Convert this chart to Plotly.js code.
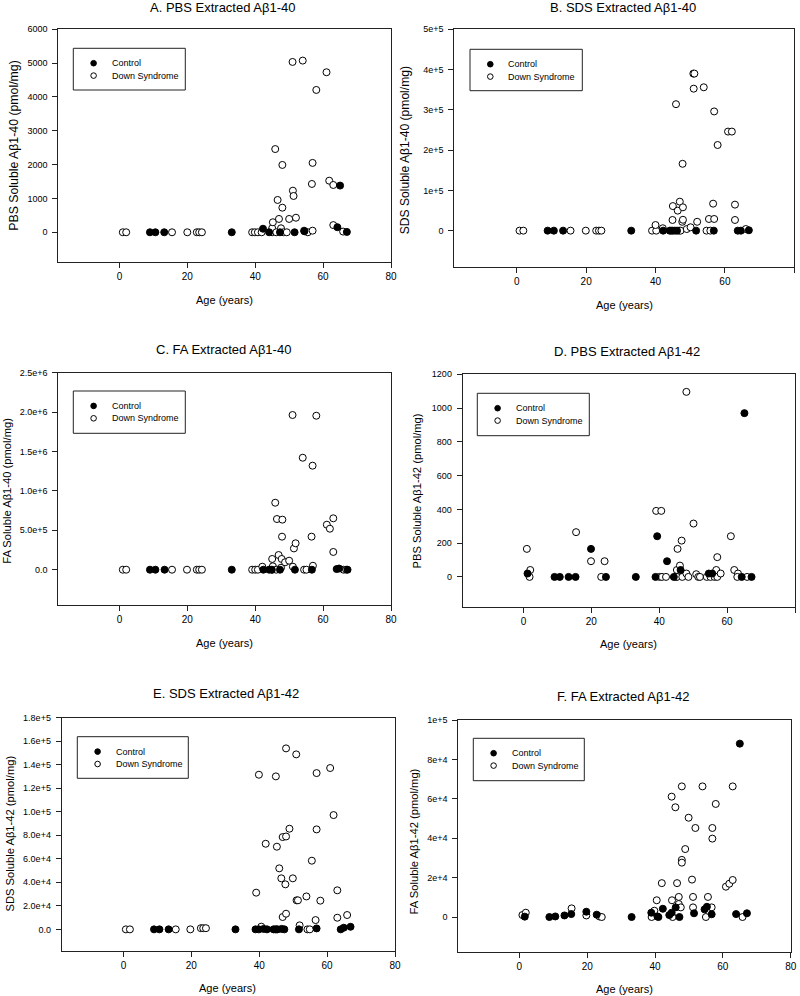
<!DOCTYPE html>
<html><head><meta charset="utf-8">
<script src="https://cdn.plot.ly/plotly-3.0.1.min.js"></script>
<style>html,body{margin:0;padding:0;background:#fff}#chart{width:800px;height:996px}</style>
</head><body><div id="chart"></div>
<script>
// ---------- DATA ----------
const xTickVals = [0, 20, 40, 60, 80];
const xTickText = ['0', '20', '40', '60', '80'];

// A. PBS Abeta1-40
const ctrlAgeA = [9.0, 10.6, 13.2, 33.1, 42.3, 44.1, 47.3, 51.6, 54.5, 64.2, 65.0, 67.0];
const ctrlValA = [0, 0, 0, 0, 105, 0, 0, 0, 30, 150, 1380, 10];
const dsAgeA = [1.0, 2.0, 15.5, 20.0, 22.8, 23.5, 24.3, 39.1, 39.9, 40.8, 41.9, 45.0, 45.0, 45.2, 45.9, 46.2, 46.6, 47.0, 47.6, 48.0, 48.0, 48.3, 49.3, 50.0, 51.0, 51.1, 51.3, 52.0, 54.0, 54.4, 55.5, 56.7, 56.9, 56.9, 58.0, 61.0, 61.8, 63.0, 63.0, 65.9];
const dsValA = [0, 0, 0, 0, 0, 0, 0, 0, 0, 0, 0, 0, 118, 296, 2460, 0, 955, 394, 118, 1990, 727, 0, 0, 394, 5035, 1230, 1073, 430, 5075, 47, 0, 1428, 2050, 47, 4207, 4730, 1525, 1398, 212, 20];
const yTickValsA = [0, 1000, 2000, 3000, 4000, 5000, 6000];
const yTickTextA = ['0', '1000', '2000', '3000', '4000', '5000', '6000'];

// B. SDS Abeta1-40
const ctrlAgeB = [8.9, 10.7, 13.35, 33.0, 42.2, 44.1, 45.0, 46.2, 51.7, 56.8, 63.7, 64.6, 66.9];
const ctrlValB = [0, 0, 0, 0, 0, 0, 0, 0, 0, 0, 0, 0, 1000];
const dsAgeB = [0.8, 1.9, 15.5, 19.9, 22.9, 23.7, 24.4, 39.0, 40.2, 40.0, 42.1, 44.5, 44.9, 45.0, 45.6, 45.9, 46.4, 46.8, 47.0, 47.2, 47.7, 47.8, 47.9, 47.9, 49.0, 50.1, 50.9, 51.2, 51.0, 52.0, 53.9, 54.7, 55.4, 55.8, 56.6, 56.9, 56.9, 57.9, 60.9, 62.0, 62.9, 62.9, 66.0];
const dsValB = [0, 0, 0, 0, 0, 0, 0, 0, 0, 14000, 6000, 0, 26500, 61000, 0, 314000, 49700, 0, 72000, 0, 22000, 166000, 58000, 27000, 4000, 8400, 390000, 390000, 352600, 22000, 356000, 0, 29000, 0, 67000, 29000, 296000, 212700, 246000, 246000, 64600, 26500, 4000];
const yTickValsB = [0, 1e5, 2e5, 3e5, 4e5, 5e5];
const yTickTextB = ['0', '1e+5', '2e+5', '3e+5', '4e+5', '5e+5'];

// C. FA Abeta1-40
const ctrlAgeC = [9.0, 10.6, 13.3, 33.1, 42.4, 44.1, 44.9, 47.3, 51.7, 56.7, 64.0, 64.7, 67.2];
const ctrlValC = [0, 0, 0, 0, 0, 0, 0, 0, 0, 0, 8000, 15000, 0];
const dsAgeC = [1.0, 2.0, 15.5, 19.9, 22.8, 23.5, 24.3, 39.1, 40.0, 40.8, 42.1, 45.0, 45.0, 45.2, 45.9, 46.2, 46.4, 46.9, 47.6, 47.8, 48.0, 47.9, 48.8, 50.0, 51.0, 51.1, 51.4, 51.9, 54.0, 54.4, 55.1, 56.6, 56.9, 57.0, 58.0, 61.1, 62.0, 63.0, 63.0, 66.0, 66.8];
const dsValC = [0, 0, 0, 0, 0, 0, 0, 0, 0, 0, 38000, 0, 136000, 43000, 850000, 0, 643000, 186000, 25000, 136000, 635000, 419000, 94000, 114000, 1963000, 38000, 270000, 335000, 1421000, 0, 0, 419000, 1320000, 50000, 1954000, 571000, 520000, 652000, 225000, 0, 0];
const yTickValsC = [0, 5e5, 1e6, 1.5e6, 2e6, 2.5e6];
const yTickTextC = ['0.0', '5.0e+5', '1.0e+6', '1.5e+6', '2.0e+6', '2.5e+6'];

// D. PBS Abeta1-42
const ctrlAgeD = [1.2, 9.15, 10.7, 13.3, 15.35, 19.9, 24.3, 33.1, 38.9, 39.4, 42.3, 44.3, 46.3, 54.6, 55.6, 64.3, 65.1, 67.2];
const ctrlValD = [20, 0, 0, 0, 0, 166, 0, 0, 0, 241, 93, 0, 41, 20, 20, 0, 970, 0];
const dsAgeD = [1.0, 2.0, 1.8, 15.5, 19.9, 22.9, 23.9, 39.1, 40.6, 40.1, 40.8, 42.0, 45.0, 45.2, 45.2, 45.4, 46.1, 46.6, 46.8, 48.0, 48.0, 48.6, 50.1, 50.9, 51.5, 52.0, 54.0, 55.1, 56.3, 56.8, 57.1, 57.1, 58.1, 61.1, 62.1, 63.2, 63.0, 65.9];
const dsValD = [166, 41, 0, 265, 93, 0, 93, 391, 391, 0, 0, 0, 0, 0, 41, 166, 67, 215, 0, 20, 1096, 0, 316, 16, 0, 0, 0, 0, 0, 41, 0, 117, 20, 241, 41, 20, 0, 0];
const yTickValsD = [0, 200, 400, 600, 800, 1000, 1200];
const yTickTextD = ['0', '200', '400', '600', '800', '1000', '1200'];

// E. SDS Abeta1-42
const ctrlAgeE = [9.0, 10.6, 13.3, 33.0, 38.9, 39.9, 41.3, 42.3, 44.2, 45.4, 46.6, 47.4, 51.7, 56.9, 64.0, 64.9, 66.9];
const ctrlValE = [0, 0, 0, 0, 0, 0, 400, 0, 0, 0, 400, 0, 0, 800, 0, 1400, 2200];
const dsAgeE = [0.7, 1.9, 15.4, 19.7, 22.8, 23.5, 24.3, 39.1, 39.9, 40.6, 41.9, 44.7, 44.9, 45.0, 45.2, 45.9, 46.5, 46.9, 46.9, 47.7, 47.9, 47.9, 47.9, 48.9, 49.9, 50.9, 51.0, 51.4, 51.9, 53.9, 54.2, 54.9, 55.5, 56.6, 56.9, 56.9, 58.0, 60.9, 61.9, 63.0, 63.0, 65.9];
const dsValE = [0, 0, 0, 0, 1000, 1000, 1000, 31200, 131500, 2300, 72800, 0, 130100, 0, 70300, 51900, 43400, 78500, 10500, 38300, 153900, 79000, 13300, 85600, 43400, 148800, 24700, 24700, 3400, 28000, 0, 0, 58400, 7900, 132900, 85000, 24400, 137200, 97200, 33200, 9900, 12200];
const yTickValsE = [0, 2e4, 4e4, 6e4, 8e4, 1e5, 1.2e5, 1.4e5, 1.6e5, 1.8e5];
const yTickTextE = ['0.0', '2.0e+4', '4.0e+4', '6.0e+4', '8.0e+4', '1.0e+5', '1.2e+5', '1.4e+5', '1.6e+5', '1.8e+5'];

// F. FA Abeta1-42
const ctrlAgeF = [1.6, 8.85, 10.6, 13.3, 15.3, 19.75, 22.8, 33.1, 38.9, 40.7, 41.0, 42.3, 44.2, 44.9, 46.1, 47.2, 51.5, 54.6, 55.3, 56.7, 63.9, 65.0, 67.1];
const ctrlValF = [200, 0, 300, 800, 1500, 2700, 1200, 0, 2200, 300, 0, 4200, 1000, 2200, 4900, 0, 1900, 3900, 5200, 1400, 1500, 88000, 1900];
const dsAgeF = [0.9, 1.9, 15.4, 19.75, 23.6, 24.3, 39.0, 39.8, 40.5, 42.0, 44.9, 45.0, 45.2, 46.0, 46.5, 47.0, 47.0, 47.6, 47.9, 47.9, 47.9, 48.9, 49.9, 50.9, 51.2, 51.2, 51.9, 54.0, 55.0, 55.6, 56.7, 56.9, 56.9, 57.9, 60.9, 61.9, 62.9, 62.9, 65.8];
const dsValF = [1000, 2200, 4400, 800, 300, 0, 0, 3200, 8500, 17200, 61100, 8500, 0, 55700, 17200, 10200, 6600, 4900, 66300, 29000, 27600, 34500, 50400, 19000, 10200, 4900, 45200, 66300, 0, 10200, 4900, 45200, 39800, 57400, 15400, 16900, 18800, 66300, 0];
const yTickValsF = [0, 2e4, 4e4, 6e4, 8e4, 1e5];
const yTickTextF = ['0', '2e+4', '4e+4', '6e+4', '8e+4', '1e+5'];

const seriesNames = ['Control', 'Down Syndrome'];

// ---------- LAYOUT / STYLE ----------
const W = 800, H = 996;
const FONT = 'Liberation Sans, Arial, Helvetica, sans-serif';
const INK = '#222';
const PX = v => v / W, PY = v => 1 - v / H;

const panels = [
  {title: 'A. PBS Extracted A\u03b21-40', ytitle: 'PBS Soluble A\u03b21-40 (pmol/mg)',
   ca: ctrlAgeA, cv: ctrlValA, da: dsAgeA, dv: dsValA, tv: yTickValsA, tt: yTickTextA,
   box: [58.3, 391, 29.3, 261.7], xr: [-18, 80], yr: [-870, 6000],
   tPos: [223, 8], xtPos: [224.7, 300], ytPos: [13.7, 146], ytSize: 12.3, leg: [73.3, 185.3, 48.3, 90]},
  {title: 'B. SDS Extracted A\u03b21-40', ytitle: 'SDS Soluble A\u03b21-40 (pmol/mg)',
   ca: ctrlAgeB, cv: ctrlValB, da: dsAgeB, dv: dsValB, tv: yTickValsB, tt: yTickTextB,
   box: [454.3, 794.3, 29.3, 267.3], xr: [-18, 80], yr: [-91000, 500000],
   tPos: [622.5, 8], xtPos: [624.3, 305], ytPos: [405.3, 150], ytSize: 12.1, leg: [470, 582.3, 49.3, 90.7]},
  {title: 'C. FA Extracted A\u03b21-40', ytitle: 'FA Soluble A\u03b21-40 (pmol/mg)',
   ca: ctrlAgeC, cv: ctrlValC, da: dsAgeC, dv: dsValC, tv: yTickValsC, tt: yTickTextC,
   box: [58.3, 391, 372.7, 605.3], xr: [-18, 80], yr: [-452000, 2500000],
   tPos: [223.3, 349.5], xtPos: [224.5, 643], ytPos: [7, 490.8], ytSize: 11.2, leg: [73.3, 185.3, 391, 433.3]},
  {title: 'D. PBS Extracted A\u03b21-42', ytitle: 'PBS Soluble A\u03b21-42 (pmol/mg)',
   ca: ctrlAgeD, cv: ctrlValD, da: dsAgeD, dv: dsValD, tv: yTickValsD, tt: yTickTextD,
   box: [462.7, 795, 374.3, 607.3], xr: [-17.9, 80], yr: [-180, 1200],
   tPos: [626.7, 351.7], xtPos: [628.3, 644], ytPos: [416.7, 490.8], ytSize: 11.2, leg: [477.3, 589.3, 393.3, 435.7]},
  {title: 'E. SDS Extracted A\u03b21-42', ytitle: 'SDS Soluble A\u03b21-42 (pmol/mg)',
   ca: ctrlAgeE, cv: ctrlValE, da: dsAgeE, dv: dsValE, tv: yTickValsE, tt: yTickTextE,
   box: [61.7, 395, 717.7, 951], xr: [-18.2, 80], yr: [-18400, 180000],
   tPos: [226.3, 693.3], xtPos: [228, 987.5], ytPos: [9.5, 834], ytSize: 11.2, leg: [77.3, 188.3, 736.7, 778.3]},
  {title: 'F. FA Extracted A\u03b21-42', ytitle: 'FA Soluble A\u03b21-42 (pmol/mg)',
   ca: ctrlAgeF, cv: ctrlValF, da: dsAgeF, dv: dsValF, tv: yTickValsF, tt: yTickTextF,
   box: [458.3, 790.7, 720, 952.3], xr: [-18, 80], yr: [-17900, 100000],
   tPos: [623, 696], xtPos: [624.3, 989], ytPos: [413.7, 841.7], ytSize: 11.2, leg: [473.3, 584.3, 738.3, 780.7]}
];

const data = [];
const layout = {
  width: W, height: H, margin: {l: 0, r: 0, t: 0, b: 0},
  paper_bgcolor: '#fff', plot_bgcolor: '#fff', showlegend: false,
  font: {family: FONT, color: '#000'},
  annotations: [], shapes: []
};

panels.forEach((p, i) => {
  const n = i === 0 ? '' : String(i + 1);
  const xa = 'x' + n, ya = 'y' + n;
  data.push({type: 'scatter', mode: 'markers', name: seriesNames[1], x: p.da, y: p.dv, xaxis: xa, yaxis: ya,
    marker: {size: 7, color: '#fff', line: {color: '#000', width: 1}}, cliponaxis: false, hoverinfo: 'x+y'});
  data.push({type: 'scatter', mode: 'markers', name: seriesNames[0], x: p.ca, y: p.cv, xaxis: xa, yaxis: ya,
    marker: {size: 7, color: '#000', line: {color: '#000', width: 1}}, cliponaxis: false, hoverinfo: 'x+y'});

  const common = {showline: true, mirror: true, linecolor: INK, linewidth: 1, ticks: 'outside', ticklen: 5,
    tickcolor: INK, tickwidth: 1, showgrid: false, zeroline: false, fixedrange: true};
  layout['xaxis' + n] = Object.assign({}, common, {
    domain: [PX(p.box[0]), PX(p.box[1])], range: p.xr, anchor: ya,
    tickmode: 'array', tickvals: xTickVals, ticktext: xTickText, tickfont: {size: 10, family: FONT}
  });
  layout['yaxis' + n] = Object.assign({}, common, {
    domain: [PY(p.box[3]), PY(p.box[2])], range: p.yr, anchor: xa,
    tickmode: 'array', tickvals: p.tv, ticktext: p.tt, tickfont: {size: 9, family: FONT}, ticklabelstandoff: 3
  });

  layout.annotations.push({xref: 'paper', yref: 'paper', x: PX(p.tPos[0]), y: PY(p.tPos[1]), text: p.title,
    showarrow: false, xanchor: 'center', yanchor: 'middle', font: {size: 13, family: FONT, color: '#000'}});
  layout.annotations.push({xref: 'paper', yref: 'paper', x: PX(p.xtPos[0]), y: PY(p.xtPos[1]), text: 'Age (years)',
    showarrow: false, xanchor: 'center', yanchor: 'middle', font: {size: 11, family: FONT, color: '#000'}});
  layout.annotations.push({xref: 'paper', yref: 'paper', x: PX(p.ytPos[0]), y: PY(p.ytPos[1]), text: p.ytitle,
    showarrow: false, xanchor: 'center', yanchor: 'middle', textangle: -90, font: {size: p.ytSize, family: FONT, color: '#000'}});

  // legend box
  const L = p.leg;
  layout.shapes.push({type: 'rect', xref: 'paper', yref: 'paper', x0: PX(L[0]), x1: PX(L[1]), y0: PY(L[3]), y1: PY(L[2]),
    line: {color: INK, width: 1}, fillcolor: '#fff', layer: 'below'});
  const mx = L[0] + 20.3, tx = L[0] + 36.3, r1 = L[2] + 14.9, r2 = L[2] + 27.3, rad = 2.8;
  [[r1, '#000'], [r2, '#fff']].forEach(([ry, fill]) => {
    layout.shapes.push({type: 'circle', xref: 'paper', yref: 'paper', x0: PX(mx - rad), x1: PX(mx + rad),
      y0: PY(ry + rad), y1: PY(ry - rad), line: {color: '#000', width: 1}, fillcolor: fill});
  });
  layout.annotations.push({xref: 'paper', yref: 'paper', x: PX(tx), y: PY(r1), text: seriesNames[0], showarrow: false,
    xanchor: 'left', yanchor: 'middle', font: {size: 9, family: FONT, color: '#000'}});
  layout.annotations.push({xref: 'paper', yref: 'paper', x: PX(tx), y: PY(r2), text: seriesNames[1], showarrow: false,
    xanchor: 'left', yanchor: 'middle', font: {size: 9, family: FONT, color: '#000'}});
});

Plotly.newPlot('chart', data, layout, {displayModeBar: false, staticPlot: true});
</script>
</body></html>
